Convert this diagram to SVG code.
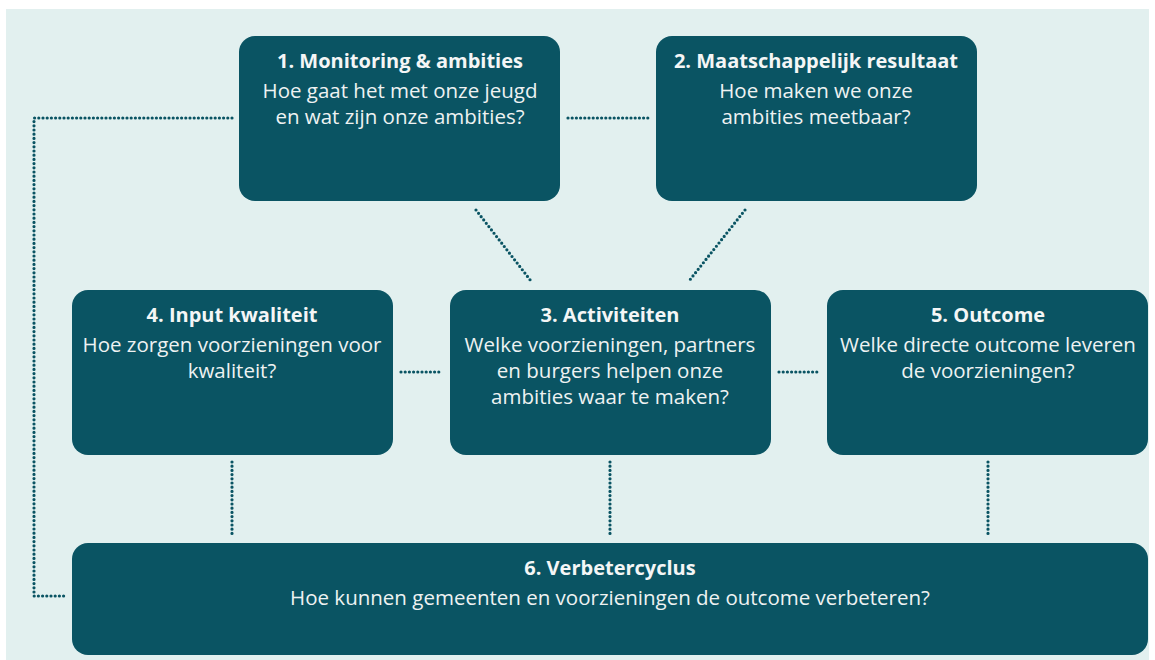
<svg xmlns="http://www.w3.org/2000/svg" width="1155" height="660" viewBox="0 0 1155 660">
<style>
.box{fill:#0a5463}
.t{font-family:"Open Sans",sans-serif;font-weight:700;font-size:20px;fill:#f4f6f6;text-anchor:middle}
.b{font-family:"Open Sans",sans-serif;font-size:20.5px;fill:#eef2f2;text-anchor:middle}
.c{fill:none;stroke:#0a5463;stroke-width:3.2;stroke-linecap:round;stroke-dasharray:0 4.2}
</style>
<rect x="0" y="0" width="1155" height="660" fill="#ffffff"/>
<rect x="6" y="9" width="1143" height="651" fill="#e2f0ef"/>
<g id="connectors">
<polyline class="c" points="232,118 34,118 34,596 67,596"/>
<line class="c" x1="568" y1="118" x2="648" y2="118"/>
<line class="c" x1="476" y1="210" x2="531" y2="281"/>
<line class="c" x1="745" y1="210" x2="689" y2="281"/>
<line class="c" x1="401" y1="372" x2="441" y2="372"/>
<line class="c" x1="779" y1="372" x2="820" y2="372"/>
<line class="c" x1="232" y1="462" x2="232" y2="534"/>
<line class="c" x1="610" y1="462" x2="610" y2="534"/>
<line class="c" x1="988" y1="462" x2="988" y2="534"/>
</g>
<g id="n1">
<rect class="box" x="239" y="36" width="321" height="165" rx="16"/>
<text class="t" x="400" y="68">1. Monitoring &amp; ambities</text>
<text class="b" x="400" y="98">Hoe gaat het met onze jeugd</text>
<text class="b" x="400" y="124">en wat zijn onze ambities?</text>
</g>
<g id="n2">
<rect class="box" x="656" y="36" width="321" height="165" rx="16"/>
<text class="t" x="816" y="68">2. Maatschappelijk resultaat</text>
<text class="b" x="816" y="98">Hoe maken we onze</text>
<text class="b" x="816" y="124">ambities meetbaar?</text>
</g>
<g id="n4">
<rect class="box" x="72" y="290" width="321" height="165" rx="16"/>
<text class="t" x="232" y="322">4. Input kwaliteit</text>
<text class="b" x="232" y="352">Hoe zorgen voorzieningen voor</text>
<text class="b" x="232" y="378">kwaliteit?</text>
</g>
<g id="n3">
<rect class="box" x="450" y="290" width="321" height="165" rx="16"/>
<text class="t" x="610" y="322">3. Activiteiten</text>
<text class="b" x="610" y="352">Welke voorzieningen, partners</text>
<text class="b" x="610" y="378">en burgers helpen onze</text>
<text class="b" x="610" y="404">ambities waar te maken?</text>
</g>
<g id="n5">
<rect class="box" x="827" y="290" width="321" height="165" rx="16"/>
<text class="t" x="988" y="322">5. Outcome</text>
<text class="b" x="988" y="352">Welke directe outcome leveren</text>
<text class="b" x="988" y="378">de voorzieningen?</text>
</g>
<g id="n6">
<rect class="box" x="72" y="543" width="1076" height="112" rx="16"/>
<text class="t" x="610" y="575">6. Verbetercyclus</text>
<text class="b" x="610" y="605">Hoe kunnen gemeenten en voorzieningen de outcome verbeteren?</text>
</g>
</svg>
